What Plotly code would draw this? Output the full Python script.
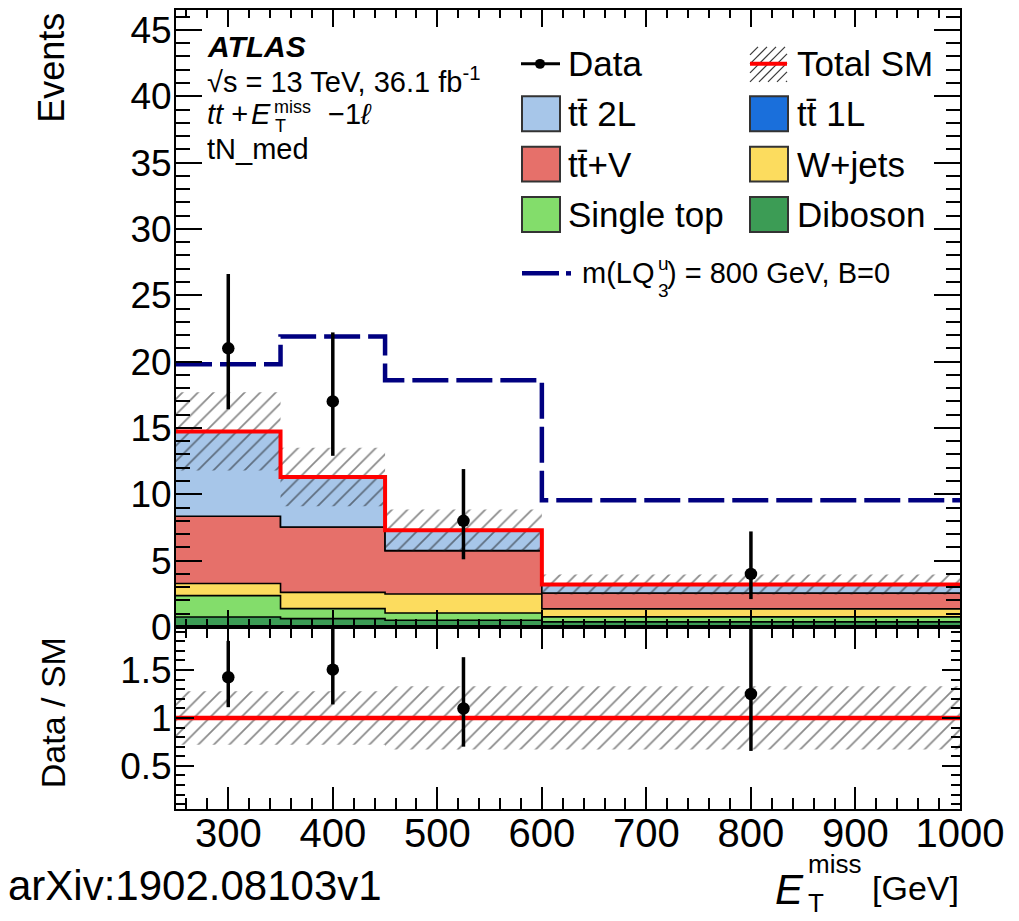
import numpy as np
import plotly.graph_objects as go

# ---------------- data ----------------
bin_edges  = [250, 350, 450, 600, 1000]
diboson    = [0.75, 0.63, 0.50, 0.38]
single_top = [1.61, 0.75, 0.55, 0.38]
w_jets     = [0.91, 1.23, 1.43, 0.60]
ttbar_v    = [5.07, 4.92, 3.27, 1.20]
ttbar_1l   = [0.00, 0.00, 0.00, 0.00]
ttbar_2l   = [6.40, 3.77, 1.53, 0.64]
sm_unc     = [2.95, 2.20, 1.58, 0.75]
data       = [21, 17, 8, 4]
data_up    = [5.6, 5.2, 3.9, 3.2]
data_dn    = [4.6, 4.1, 2.9, 1.9]
signal_lq  = [19.8, 21.9, 18.6, 9.55]
ratio_unc  = [0.28, 0.28, 0.33, 0.33]

# ---------------- styles ----------------
C_DIB, C_ST, C_WJ = "#3c9c55", "#83dd6b", "#fcdc5e"
C_TTV, C_1L, C_2L = "#e6706a", "#1a6fdb", "#a7c6e9"
C_RED, C_NAVY = "#ff0000", "#000080"
FONT = "Liberation Sans, Arial, Helvetica, sans-serif"

edges = np.array(bin_edges, dtype=float)
centers = (edges[:-1] + edges[1:]) / 2

def step_y(v):
    v = list(v)
    return v + [v[-1]]

fig = go.Figure()

components = [
    ("Diboson", diboson, C_DIB),
    ("Single top", single_top, C_ST),
    ("W+jets", w_jets, C_WJ),
    ("ttV", ttbar_v, C_TTV),
    ("tt1L", ttbar_1l, C_1L),
    ("tt2L", ttbar_2l, C_2L),
]
cum = np.zeros(len(centers))
for i, (name, vals, col) in enumerate(components):
    cum = cum + np.array(vals, dtype=float)
    fig.add_trace(go.Scatter(x=edges, y=step_y(cum), mode="lines", line_shape="hv",
                             fill="tozeroy" if i == 0 else "tonexty", fillcolor=col,
                             line=dict(color="black", width=1.6), name=name,
                             xaxis="x", yaxis="y", showlegend=False, hoverinfo="skip"))
total = cum.copy()

hatch = dict(shape="/", fgcolor="#151515", bgcolor="rgba(0,0,0,0)", size=11,
             solidity=0.16, fillmode="overlay")

def band(lo, hi, xa, ya):
    fig.add_trace(go.Scatter(x=edges, y=step_y(lo), mode="lines", line_shape="hv",
                             line=dict(width=0, color="rgba(0,0,0,0)"),
                             xaxis=xa, yaxis=ya, showlegend=False, hoverinfo="skip"))
    fig.add_trace(go.Scatter(x=edges, y=step_y(hi), mode="lines", line_shape="hv",
                             line=dict(width=0, color="rgba(0,0,0,0)"), fill="tonexty",
                             fillcolor="rgba(0,0,0,0)", fillpattern=hatch,
                             xaxis=xa, yaxis=ya, showlegend=False, hoverinfo="skip"))

unc = np.array(sm_unc)
band(total - unc, total + unc, "x", "y")

# total SM line
fig.add_trace(go.Scatter(x=edges, y=step_y(total), mode="lines", line_shape="hv",
                         line=dict(color=C_RED, width=4), xaxis="x", yaxis="y",
                         showlegend=False))
# signal
fig.add_trace(go.Scatter(x=edges, y=step_y(signal_lq), mode="lines", line_shape="hv",
                         line=dict(color=C_NAVY, width=4.5, dash="36px,8px"),
                         xaxis="x", yaxis="y", showlegend=False))
# data
fig.add_trace(go.Scatter(x=centers, y=data, mode="markers",
                         marker=dict(color="black", size=12.5),
                         error_y=dict(type="data", symmetric=False, array=data_up,
                                      arrayminus=data_dn, color="black", thickness=3.5, width=0),
                         xaxis="x", yaxis="y", showlegend=False))

# ---------------- ratio panel ----------------
runc = np.array(ratio_unc)
band(1 - runc, 1 + runc, "x2", "y2")
fig.add_trace(go.Scatter(x=[edges[0], edges[-1]], y=[1, 1], mode="lines",
                         line=dict(color=C_RED, width=4.5), xaxis="x2", yaxis="y2",
                         showlegend=False))
ratio = np.array(data) / total
fig.add_trace(go.Scatter(x=centers, y=ratio, mode="markers",
                         marker=dict(color="black", size=12.5),
                         error_y=dict(type="data", symmetric=False,
                                      array=np.array(data_up) / total,
                                      arrayminus=np.array(data_dn) / total,
                                      color="black", thickness=3.5, width=0),
                         xaxis="x2", yaxis="y2", showlegend=False))

# ---------------- layout ----------------
# page pixel positions of the plot frame (page has an 8px body margin)
OFF = 8
L, R, T, B = 176, 960, 8, 809
W, H = 1011, 913
split = 626.5
def ax(px):
    return (px - L) / (R - L)
def ay(py):
    return (B - py) / (B - T)

common = dict(showline=True, linecolor="black", linewidth=2, mirror="allticks",
              ticks="inside", tickcolor="black", tickwidth=1.5, showgrid=False,
              zeroline=False)

fig.update_layout(
    width=W, height=H,
    margin=dict(l=L - OFF, r=W - (R - OFF), t=T - OFF, b=H - (B - OFF), pad=0),
    paper_bgcolor="white", plot_bgcolor="white",
    font=dict(family=FONT, color="black"),
    xaxis=dict(common, domain=[0, 1], anchor="y", range=[250, 1000], tick0=0, dtick=100,
               ticklen=17, showticklabels=False,
               minor=dict(dtick=20, ticklen=8, ticks="inside", tickcolor="black",
                          tickwidth=1.5, showgrid=False)),
    yaxis=dict(common, domain=[ay(split), 1], anchor="x", range=[0, 46.5], tick0=0, dtick=5,
               ticklen=26, tickfont=dict(size=37, family=FONT), ticklabelstandoff=-5,
               minor=dict(dtick=1, ticklen=14, ticks="inside", tickcolor="black",
                          tickwidth=1.5, showgrid=False)),
    xaxis2=dict(common, domain=[0, 1], anchor="y2", range=[250, 1000], tick0=0, dtick=100,
                ticklen=22, tickfont=dict(size=40, family=FONT), ticklabelstandoff=-12,
                minor=dict(dtick=20, ticklen=11, ticks="inside", tickcolor="black",
                           tickwidth=1.5, showgrid=False)),
    yaxis2=dict(common, domain=[0, ay(split)], anchor="x2", range=[0.05, 1.95], tick0=0,
                dtick=0.5, ticklen=18, tickfont=dict(size=37, family=FONT),
                ticklabelstandoff=-5,
                minor=dict(dtick=0.1, ticklen=9, ticks="inside", tickcolor="black",
                           tickwidth=1.5, showgrid=False)),
)

ann = []
def text(px, py, s, size, xanchor="left", angle=0, yanchor="middle"):
    ann.append(dict(x=ax(px), y=ay(py), xref="paper", yref="paper", text=s,
                    showarrow=False, xanchor=xanchor, yanchor=yanchor, textangle=angle,
                    font=dict(size=size, family=FONT, color="black")))

# axis titles
text(52, 66, "Events", 36, xanchor="center", angle=-90)
text(53, 713, "Data / SM", 34, xanchor="center", angle=-90)

# ATLAS label
text(205, 45, "<b><i>ATLAS</i></b>", 30)
text(205, 78, "\u221as = 13 TeV, 36.1 fb<sup>-1</sup>", 29)
text(205, 112, "<i>tt</i> +", 29)
text(249, 112, "<i>E</i>", 29)
text(272, 105, "miss", 18)
text(273, 124, "T", 18)
text(326, 112, "\u22121<i>\u2113</i>", 29)
text(205, 147, "tN_med", 29)

# legend
LS = 35
rows = [62, 112, 162.5, 213]
text(566, rows[0], "Data", LS)
text(795, rows[0], "Total SM", LS)
text(566, rows[1], "tt\u0304 2L", LS)
text(795, rows[1], "tt\u0304 1L", LS)
text(566, rows[2], "tt\u0304+V", LS)
text(795, rows[2], "W+jets", LS)
text(566, rows[3], "Single top", LS)
text(795, rows[3], "Diboson", LS)
text(580, 272, "m(LQ", 29)
text(656, 262, "u", 19)
text(656, 289, "3", 19)
text(665, 272, ") = 800 GeV, B=0", 29)

# bottom texts
text(773, 890, "<i>E</i>", 42)
text(806, 864, "miss", 26)
text(806, 903, "T", 26)
text(961, 888, "[GeV]", 34, xanchor="right")
text(6, 886, "arXiv:1902.08103v1", 42)

shapes = []
def rect(x0, y0, x1, y1, fill, line="#333333"):
    shapes.append(dict(type="rect", xref="paper", yref="paper", x0=ax(x0), x1=ax(x1),
                       y0=ay(y1), y1=ay(y0), fillcolor=fill,
                       line=dict(color=line, width=2)))
def seg(x0, y0, x1, y1, col, w):
    shapes.append(dict(type="line", xref="paper", yref="paper", x0=ax(x0), x1=ax(x1),
                       y0=ay(y0), y1=ay(y1), line=dict(color=col, width=w)))

# legend swatches
sw = [(522, 560), (750, 788)]
def swatch(col, row, fill):
    cy = rows[row]
    rect(sw[col][0], cy - 17.5, sw[col][1], cy + 17.5, fill)
swatch(0, 1, C_2L); swatch(1, 1, C_1L)
swatch(0, 2, C_TTV); swatch(1, 2, C_WJ)
swatch(0, 3, C_ST); swatch(1, 3, C_DIB)
# data entry
seg(521, rows[0], 560, rows[0], "black", 3)
shapes.append(dict(type="circle", xref="paper", yref="paper", x0=ax(535), x1=ax(545),
                   y0=ay(67), y1=ay(57), fillcolor="black", line=dict(color="black", width=0)))
# total SM entry: hatch + red line
hx0, hx1, hy0, hy1 = 750, 787, 45, 80
for k in range(-4, 5):
    d = k * 9.0
    xa, ya = hx0 + d, hy1
    xb, yb = hx0 + d + (hy1 - hy0), hy0
    if xa < hx0:
        ya = ya - (hx0 - xa); xa = hx0
    if xb > hx1:
        yb = yb + (xb - hx1); xb = hx1
    if xa < xb:
        seg(xa, ya, xb, yb, "#3a3a3a", 1.2)
seg(750, rows[0], 787, rows[0], C_RED, 4)
# signal entry
seg(522, 272, 559, 272, C_NAVY, 4.5)
seg(566, 272, 571, 272, C_NAVY, 4.5)

fig.update_layout(annotations=ann, shapes=shapes)
fig.write_html("out.html")
